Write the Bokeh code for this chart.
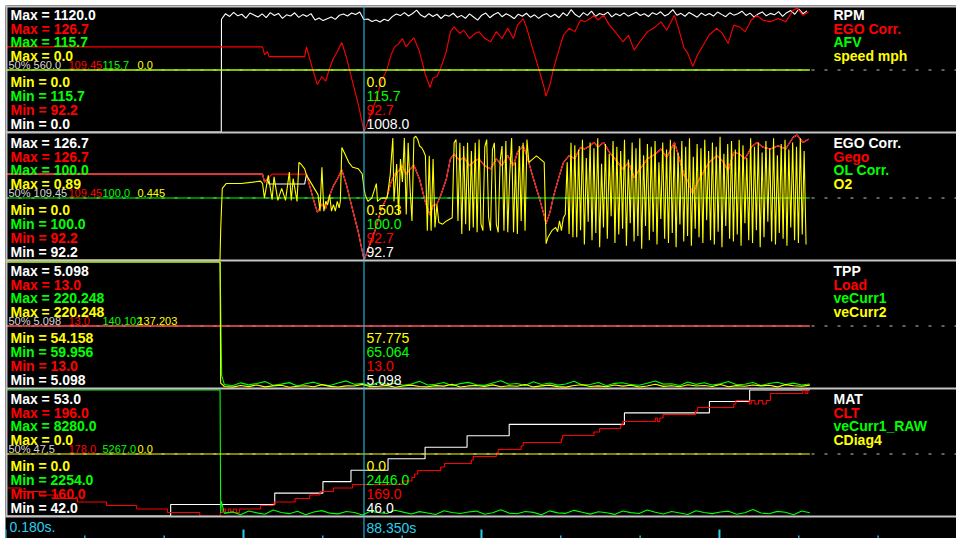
import numpy as np
from bokeh.plotting import figure
from bokeh.models import Range1d, ColumnDataSource
from bokeh.embed import file_html
from bokeh.resources import INLINE
from bokeh.core.properties import value

# ---------------------------------------------------------------- data
T_START = 0.18
T_CURSOR = 88.35
T_END = 198.0
TICK_STEP = 19.51

panel_names = [["RPM", "EGO Corr.", "AFV", "speed mph"],
               ["EGO Corr.", "Gego", "OL Corr.", "O2"],
               ["TPP", "Load", "veCurr1", "veCurr2"],
               ["MAT", "CLT", "veCurr1_RAW", "CDiag4"]]
panel_max = [["1120.0", "126.7", "115.7", "0.0"],
             ["126.7", "126.7", "100.0", "0.89"],
             ["5.098", "13.0", "220.248", "220.248"],
             ["53.0", "196.0", "8280.0", "0.0"]]
panel_min = [["0.0", "92.2", "115.7", "0.0"],
             ["92.2", "92.2", "100.0", "0.0"],
             ["5.098", "13.0", "59.956", "54.158"],
             ["42.0", "160.0", "2254.0", "0.0"]]
panel_mid = [["560.0", "109.45", "115.7", "0.0"],
             ["109.45", "109.45", "100.0", "0.445"],
             ["5.098", "13.0", "140.102", "137.203"],
             ["47.5", "178.0", "5267.0", "0.0"]]
panel_cursor = [["1008.0", "92.7", "115.7", "0.0"],
                ["92.7", "92.7", "100.0", "0.503"],
                ["5.098", "13.0", "65.064", "57.775"],
                ["46.0", "169.0", "2446.0", "0.0"]]

# RPM: 0 until engine start, then sampled every 1.0 s from 53.3 s
rpm_start, rpm_dt = 53.3, 1.0
rpm_vals = [1010, 1060, 1035, 1072, 1041, 1055, 1020, 1066, 1048, 1030,
            1058, 1025, 1070, 1044, 1062, 1018, 1050, 1039, 1068, 1027,
            1052, 1036, 1061, 1004, 1022, 998, 1015, 1031, 1009, 1046,
            1057, 1040, 1066, 1052, 1075, 1008, 1012, 990, 1003, 985,
            1010, 996, 1034, 1058, 1043, 1070, 1039, 1062, 1092, 1048,
            1028, 1060, 1035, 1055, 1017, 1049, 1038, 1064, 1026, 1045,
            1019, 1058, 1030, 1002, 1047, 1066, 1024, 1053, 1071, 1033,
            1060, 1042, 1015, 1056, 1037, 1064, 1028, 1050, 1018, 1046,
            1061, 1032, 1055, 1024, 1068, 1041, 1096, 1052, 1029, 1070,
            1045, 1083, 1036, 1062, 1048, 1074, 1031, 1059, 1042, 1067,
            1038, 1056, 1073, 1044, 1060, 1035, 1069, 1052, 1077, 1040,
            1058, 1097, 1046, 1063, 1037, 1071, 1050, 1029, 1066, 1043,
            1062, 1039, 1075, 1054, 1033, 1068, 1047, 1060, 1082, 1044,
            1065, 1030, 1058, 1076, 1041, 1063, 1050, 1079, 1036, 1069,
            1088, 1055, 1102, 1060, 1085]

ego_t = [0.18, 63.4, 63.9, 64.6, 65.0, 73.76, 74.2, 75.65, 76.87, 78.0,
         78.9, 79.9, 80.8, 81.8, 82.9, 84.1, 85.5, 86.96, 88.37, 91.2,
         92.6, 94.0, 95.0, 95.9, 96.9, 97.8, 98.7, 99.7, 100.6, 102.0,
         103.45, 104.6, 105.3, 106.3, 107.2, 108.6, 109.6, 110.5, 111.9, 112.9,
         114.3, 115.7, 116.6, 118.1, 119.5, 120.9, 122.3, 123.7, 125.1, 126.1,
         127.5, 128.4, 129.8, 131.3, 132.7, 133.1, 134.1, 135.0, 136.4, 137.4,
         138.8, 140.2, 141.6, 142.6, 144.0, 144.9, 145.9, 147.3, 148.7, 150.1,
         152.0, 153.4, 154.8, 156.2, 158.1, 160.0, 161.4, 162.8, 164.7, 165.7,
         167.1, 168.0, 169.2, 170.4, 171.8, 173.2, 175.1, 176.5, 177.9, 179.3,
         180.7, 182.1, 183.6, 185.0, 186.4, 188.3, 190.2, 192.05, 193.9, 194.9,
         196.3, 197.7]
ego_v = [115.7, 115.7, 113.5, 114.4, 113.0, 113.0, 115.7, 109.8, 105.3, 107.5,
         106.2, 109.8, 112.5, 114.4, 116.9, 112.5, 106.2, 99.8, 92.2, 100.7,
         106.2, 109.4, 113.5, 115.7, 116.6, 118.0, 115.7, 117.1, 118.2, 114.4,
         108.0, 104.5, 107.1, 107.5, 109.8, 114.4, 119.9, 121.2, 119.4, 120.3,
         118.0, 119.4, 119.9, 118.0, 117.1, 119.9, 118.0, 120.8, 118.0, 121.7,
         123.5, 120.8, 115.3, 109.8, 104.3, 102.1, 105.3, 109.8, 115.3, 118.9,
         120.8, 119.9, 123.1, 122.6, 123.5, 124.4, 123.1, 124.4, 121.7, 119.9,
         117.1, 118.9, 114.8, 117.1, 119.9, 121.2, 122.6, 120.3, 124.4, 120.8,
         115.3, 113.9, 110.3, 113.5, 116.2, 118.9, 120.8, 119.4, 116.6, 121.7,
         121.2, 119.9, 123.1, 124.4, 123.1, 122.6, 123.5, 122.6, 125.8, 126.4,
         124.4, 125.3]
# Gego follows EGO Corr. except for the first idle segment
gego_head_t = [0.18, 63.4, 63.9, 65.75, 73.76]
gego_head_v = [115.7, 115.7, 113.5, 115.7, 115.7]

o2_t = [0.18, 52.93, 53.12, 53.5, 54.44, 58.21, 61.04, 62.92, 63.4, 63.86,
        64.8, 65.75, 66.22, 67.16, 68.11, 69.05, 69.99, 70.46, 70.93, 71.88,
        72.35, 72.82, 73.76, 74.23, 75.18, 76.12, 77.06, 77.53, 78.0, 78.47,
        78.95, 79.42, 79.89, 80.36, 80.83, 81.3, 81.77, 82.24, 82.53, 82.9,
        83.66, 84.6, 85.54, 86.96, 87.9, 88.37, 88.65, 89.31, 90.26, 91.39,
        91.67, 92.61, 94.03, 94.78, 95.44, 95.72, 96.38, 96.85, 97.32, 97.8,
        98.27, 98.74, 99.21, 99.68, 100.15, 100.62, 101.09, 101.57, 102.04, 102.5,
        102.98, 103.45, 103.92, 104.4, 104.86, 105.34, 105.8, 106.28, 106.75, 107.69,
        108.63, 110.05, 110.52, 110.99, 111.46, 111.93, 112.4, 112.88, 113.35, 113.82,
        114.29, 114.76, 115.23, 115.7, 116.17, 116.65, 117.12, 117.59, 118.06, 118.53,
        119.0, 119.47, 119.94, 120.42, 120.9, 121.36, 121.83, 122.3, 122.77, 123.24,
        123.71, 124.19, 124.66, 125.13, 125.6, 126.07, 126.54, 127.01, 127.48, 127.96,
        128.43, 128.9, 129.84, 130.78, 131.73, 132.67, 133.14, 133.61, 134.55, 135.5,
        135.97, 136.44, 136.91, 137.38, 137.85, 138.32, 138.79, 139.26, 139.73]
o2_v = [0, 0, 0.23, 0.506, 0.54, 0.54, 0.55, 0.557, 0.54, 0.437,
        0.598, 0.426, 0.587, 0.421, 0.506, 0.421, 0.621, 0.421, 0.575, 0.414,
        0.69, 0.678, 0.644, 0.598, 0.552, 0.506, 0.46, 0.345, 0.655, 0.345,
        0.414, 0.391, 0.46, 0.345, 0.391, 0.345, 0.414, 0.368, 0.414, 0.794,
        0.748, 0.69, 0.655, 0.644, 0.609, 0.503, 0.46, 0.414, 0.437, 0.54,
        0.414, 0.437, 0.437, 0.598, 0.862, 0.414, 0.678, 0.322, 0.713, 0.552,
        0.862, 0.322, 0.828, 0.506, 0.276, 0.862, 0.874, 0.851, 0.805, 0.794,
        0.77, 0.736, 0.207, 0.736, 0.207, 0.713, 0.23, 0.391, 0.265, 0.253,
        0.276, 0.299, 0.828, 0.851, 0.276, 0.828, 0.184, 0.805, 0.253, 0.828,
        0.207, 0.77, 0.23, 0.828, 0.196, 0.851, 0.253, 0.207, 0.80, 0.851,
        0.30, 0.207, 0.78, 0.828, 0.25, 0.196, 0.70, 0.805, 0.207, 0.84,
        0.196, 0.60, 0.862, 0.196, 0.69, 0.184, 0.805, 0.276, 0.828, 0.207,
        0.851, 0.69, 0.713, 0.736, 0.713, 0.69, 0.115, 0.161, 0.207, 0.23,
        0.20, 0.276, 0.207, 0.299, 0.322, 0.69, 0.184, 0.828, 0.161]
# closed-loop switching after 140.2 s, sampled every 0.47 s (rich / lean)
o2_sw_start, o2_sw_dt = 140.2, 0.47
o2_rich = [0.81, 0.78, 0.85, 0.72, 0.83, 0.79, 0.86, 0.68, 0.82, 0.75,
           0.84, 0.80, 0.77, 0.85, 0.71, 0.83, 0.79, 0.86, 0.74, 0.82,
           0.80, 0.84, 0.69, 0.83, 0.78, 0.85, 0.81, 0.76, 0.84, 0.80,
           0.86, 0.73, 0.82, 0.79, 0.85, 0.77, 0.83, 0.80, 0.87, 0.75,
           0.82, 0.84, 0.78, 0.85, 0.81, 0.72, 0.86, 0.80, 0.83, 0.76,
           0.84, 0.79, 0.86, 0.74, 0.82, 0.85, 0.78, 0.83, 0.80, 0.86, 0.77]
o2_lean = [0.16, 0.21, 0.11, 0.27, 0.14, 0.19, 0.09, 0.23, 0.15, 0.31,
           0.12, 0.18, 0.22, 0.10, 0.26, 0.13, 0.17, 0.08, 0.24, 0.14,
           0.20, 0.11, 0.29, 0.15, 0.12, 0.19, 0.09, 0.25, 0.13, 0.17,
           0.10, 0.22, 0.16, 0.12, 0.28, 0.14, 0.11, 0.20, 0.09, 0.24,
           0.15, 0.13, 0.18, 0.10, 0.26, 0.14, 0.12, 0.21, 0.09, 0.16,
           0.27, 0.13, 0.11, 0.19, 0.15, 0.10, 0.23, 0.14, 0.12, 0.18, 0.11]

# VE tables / raw: start-up values, then samples every 2.0 s from 54 s
ve_head_t = [0.18, 52.95]
ve2_head_v = [220.248, 220.248, 60.5]
ve2_head_t_extra = [53.1]
ve1_head_v = [220.248, 220.248, 147.0, 76.0]
ve1_head_t_extra = [53.15, 53.35]
raw_head_v = [8280.0, 8280.0, 2400.0, 2960.0]
raw_head_t_extra = [53.1, 53.25]
ve_start, ve_dt = 54.0, 2.0
vecurr2_vals = [56.1, 55.3, 57.4, 56.0, 58.2, 55.6, 56.9, 57.8, 55.1, 56.5,
                57.2, 55.8, 58.6, 56.3, 55.5, 57.0, 56.7, 58.9, 55.9, 56.4,
                57.6, 55.2, 56.8, 58.0, 56.1, 55.7, 57.3, 56.6, 59.1, 55.4,
                56.9, 57.5, 56.2, 58.3, 55.8, 57.1, 56.4, 58.7, 55.6, 56.9,
                57.9, 56.0, 55.3, 57.4, 58.5, 56.2, 57.0, 55.9, 58.1, 56.6,
                57.7, 55.5, 56.8, 59.0, 56.3, 57.2, 55.8, 58.4, 56.7, 57.5,
                56.1, 58.8, 55.7, 57.3, 56.5, 58.2, 56.9, 57.8, 55.6, 58.6,
                57.1, 56.4, 58.0]
vecurr1_vals = [64.2, 62.8, 66.5, 63.9, 65.7, 68.1, 63.4, 64.9, 66.8, 62.6,
                65.3, 67.4, 64.0, 63.1, 66.2, 69.0, 64.6, 65.8, 62.9, 67.7,
                64.3, 66.0, 63.5, 65.1, 68.4, 63.8, 64.7, 66.9, 62.7, 65.5,
                67.1, 64.1, 63.3, 66.4, 69.3, 64.8, 65.6, 63.0, 67.9, 64.5,
                66.3, 63.6, 65.0, 68.6, 63.9, 64.4, 67.0, 62.8, 65.9, 66.7,
                64.2, 63.4, 66.1, 68.8, 64.9, 65.4, 63.2, 67.5, 64.6, 66.6,
                63.7, 65.2, 68.2, 64.0, 64.8, 66.9, 63.1, 65.7, 67.3, 64.3,
                66.2, 63.8, 65.0]
raw_vals = [2380, 2452, 2318, 2496, 2405, 2341, 2538, 2420, 2366, 2477,
            2310, 2445, 2512, 2390, 2356, 2468, 2425, 2301, 2489, 2412,
            2375, 2530, 2438, 2349, 2462, 2397, 2323, 2505, 2418, 2370,
            2446, 2488, 2335, 2410, 2552, 2392, 2360, 2471, 2428, 2315,
            2499, 2403, 2381, 2524, 2436, 2344, 2458, 2409, 2330, 2492,
            2415, 2372, 2540, 2433, 2352, 2466, 2400, 2326, 2509, 2421,
            2368, 2447, 2485, 2338, 2413, 2560, 2395, 2362, 2474, 2430,
            2318, 2497, 2406]

# temperatures (step changes)
mat_t = [0.18, 40.8, 66.4, 78.25, 85.15, 94.26, 103.37, 113.7, 124.06, 152.4, 173.3, 183.2, 198.0]
mat_v = [42, 43, 44, 45, 46, 47, 48, 49, 50, 51, 52, 53, 53]
clt_t = [0.18, 4.0, 8.5, 13.0, 17.9, 25.05, 32.44, 40.0, 47.96, 53.0,
         53.6, 54.3, 55.0, 55.6, 56.2, 57.0, 57.74, 62.92, 66.22, 71.4,
         75.0, 77.53, 80.83, 85.54, 97.8, 100.15, 100.8, 101.57, 107.22, 108.16,
         114.76, 115.23, 120.9, 121.36, 127.0, 127.5, 136.9, 137.2, 144.9, 146.3,
         151.5, 152.0, 160.0, 160.5, 161.1, 161.9, 169.9, 170.4, 179.3, 179.8,
         183.1, 183.6, 184.5, 185.4, 186.4, 187.3, 188.3, 196.3, 197.0, 197.5, 198.0]
clt_v = [168, 167, 166, 165, 164, 163, 162, 161, 160, 161,
         162, 161, 162, 161, 162, 161, 162, 163, 164, 165,
         166, 167, 168, 169, 170, 171, 172, 173, 174, 175,
         176, 177, 178, 179, 180, 181, 182, 183, 184, 185,
         186, 187, 188, 187, 188, 189, 190, 191, 192, 193,
         192, 193, 192, 193, 192, 193, 195, 196, 195, 196, 196]

# constant channels
const_t = [T_START, T_END]

# ---------------------------------------------------------------- layout
COLORS = ["#ffffff", "#ff0000", "#00ff00", "#ffff00"]
GRAY = "#c4c4c4"
CYAN = "#28d0f0"
PANEL_EDGES = [(5, 132), (132, 260), (260, 388), (388, 516)]
PX_PER_S = 4.066
FONT = "Liberation Sans"
W, H = 956, 538

p = figure(width=W, height=H, output_backend="svg", toolbar_location=None,
           x_range=Range1d(T_START, T_START + (956 - 5) / PX_PER_S),
           y_range=Range1d(538, 5),
           x_axis_location=None, y_axis_location=None,
           min_border_left=5, min_border_top=5, min_border_right=0, min_border_bottom=0,
           background_fill_color="black", border_fill_color="white",
           outline_line_color=None)
p.xgrid.visible = False
p.ygrid.visible = False


def panel_mid_px(T, B):
    return (T + B) // 2 + 1.5


def series_range(panel, slot):
    vmin = float(panel_min[panel][slot])
    vmax = float(panel_max[panel][slot])
    T, B = PANEL_EDGES[panel]
    if vmax == vmin:
        mid = panel_mid_px(T, B)
        return Range1d(vmin + (mid - 538), vmin + (mid - 5))
    top, bot = T + 1.5, B - 0.5
    k = (vmax - vmin) / (bot - top)
    return Range1d(vmin + (bot - 538) * k, vmin + (bot - 5) * k)


extra_y = {}
for pi in range(4):
    for si in range(4):
        extra_y[f"s{pi}{si}"] = series_range(pi, si)
p.extra_y_ranges = extra_y
p.extra_x_ranges = {"px": Range1d(5, 956)}

# dashed 50% lines
for pi, (T, B) in enumerate(PANEL_EDGES):
    mid = panel_mid_px(T, B)
    p.line([5, 956], [mid, mid], x_range_name="px", line_color=GRAY,
           line_width=1, line_dash="3 10")

# assemble channel data
rpm_t = [T_START, 53.25] + [rpm_start + i * rpm_dt for i in range(len(rpm_vals))]
rpm_v = [0.0, 0.0] + rpm_vals
gego_t = gego_head_t + ego_t[6:]
gego_v = gego_head_v + ego_v[6:]
sw_vals = [v for pair in zip(o2_rich, o2_lean) for v in pair]
o2_all_t = o2_t + [o2_sw_start + i * o2_sw_dt for i in range(len(sw_vals))]
o2_all_v = o2_v + sw_vals
ve2_t = ve_head_t + ve2_head_t_extra + [ve_start + i * ve_dt for i in range(len(vecurr2_vals))]
ve2_v = ve2_head_v + vecurr2_vals
ve1_t = ve_head_t + ve1_head_t_extra + [ve_start + i * ve_dt for i in range(len(vecurr1_vals))]
ve1_v = ve1_head_v + vecurr1_vals
raw_t = ve_head_t + raw_head_t_extra + [ve_start + i * ve_dt for i in range(len(raw_vals))]
raw_v = raw_head_v + raw_vals

channels = {
    (0, 0): (rpm_t, rpm_v, "line"),
    (0, 1): (ego_t, ego_v, "line"),
    (0, 2): (const_t, [115.7, 115.7], "line"),
    (0, 3): (const_t, [0.0, 0.0], "line"),
    (1, 0): (ego_t, ego_v, "line"),
    (1, 1): (gego_t, gego_v, "line"),
    (1, 2): (const_t, [100.0, 100.0], "line"),
    (1, 3): (o2_all_t, o2_all_v, "line"),
    (2, 0): (const_t, [5.098, 5.098], "line"),
    (2, 1): (const_t, [13.0, 13.0], "line"),
    (2, 2): (ve1_t, ve1_v, "line"),
    (2, 3): (ve2_t, ve2_v, "line"),
    (3, 0): (mat_t, mat_v, "step"),
    (3, 1): (clt_t, clt_v, "step"),
    (3, 2): (raw_t, raw_v, "line"),
    (3, 3): (const_t, [0.0, 0.0], "line"),
}
for pi in range(4):
    for si in range(4):
        xs, ys, kind = channels[(pi, si)]
        if kind == "step":
            p.step(xs, ys, mode="after", line_color=COLORS[si], line_width=1.1,
                   y_range_name=f"s{pi}{si}")
        else:
            p.line(xs, ys, line_color=COLORS[si], line_width=1.1,
                   y_range_name=f"s{pi}{si}")

# separators & border
for T, B in PANEL_EDGES:
    p.line([5, 956], [B, B], x_range_name="px", line_color=GRAY, line_width=2)
p.line([5, 956], [6, 6], x_range_name="px", line_color=GRAY, line_width=2)
p.line([6, 6], [5, 516], x_range_name="px", line_color=GRAY, line_width=2)

# cursor
p.line([T_CURSOR, T_CURSOR], [5, 538], line_color=CYAN, line_width=1)

# time ticks
n_ticks = int((956 - 5) / PX_PER_S / TICK_STEP) + 1
tick_t = [T_START + k * TICK_STEP for k in range(n_ticks)]
major = [k % 3 == 0 for k in range(n_ticks)]
p.segment(x0=tick_t, x1=tick_t, y0=[529 if m else 535 for m in major],
          y1=[538] * n_ticks, line_color=CYAN,
          line_width=[2 if m else 1.3 for m in major])

# ---------------------------------------------------------------- texts
ROW_MAX = [10, 24, 37.5, 51]
ROW_MID = 60
ROW_MIN = [77, 91, 105, 119]
MID_X = [8, 68, 102, 137]

bold = dict(x=[], y=[], text=[], color=[])
reg = dict(x=[], y=[], text=[], color=[])
small = dict(x=[], y=[], text=[], color=[])
for pi, (T, B) in enumerate(PANEL_EDGES):
    off = T - (1 if pi == 0 else 0)
    for si in range(4):
        bold["x"].append(10); bold["y"].append(off + ROW_MAX[si])
        bold["text"].append(f"Max = {panel_max[pi][si]}"); bold["color"].append(COLORS[si])
        # legend names on the right
        bold["x"].append(833); bold["y"].append(off + ROW_MAX[si])
        bold["text"].append(panel_names[pi][si]); bold["color"].append(COLORS[si])
        # min rows (reverse order: yellow, green, red, white)
        sj = 3 - si
        bold["x"].append(10); bold["y"].append(off + ROW_MIN[si])
        bold["text"].append(f"Min = {panel_min[pi][sj]}"); bold["color"].append(COLORS[sj])
        reg["x"].append(366); reg["y"].append(off + ROW_MIN[si])
        reg["text"].append(panel_cursor[pi][sj]); reg["color"].append(COLORS[sj])
        small["x"].append(MID_X[si]); small["y"].append(off + ROW_MID)
        small["text"].append(("50% " if si == 0 else "") + panel_mid[pi][si])
        small["color"].append("#d8d8d8" if si == 0 else COLORS[si])

# time labels
reg["x"] += [9, 366]
reg["y"] += [526, 527]
reg["text"] += [f"{T_START:.3f}s.", f"{T_CURSOR:.3f}s"]
reg["color"] += [CYAN, CYAN]

p.text(x="x", y="y", text="text", text_color="color", source=ColumnDataSource(bold),
       x_range_name="px", text_font=value(FONT), text_font_style="bold",
       text_font_size="14px", text_baseline="middle", text_align="left")
p.text(x="x", y="y", text="text", text_color="color", source=ColumnDataSource(reg),
       x_range_name="px", text_font=value(FONT), text_font_size="14px",
       text_baseline="middle", text_align="left")
p.text(x="x", y="y", text="text", text_color="color", source=ColumnDataSource(small),
       x_range_name="px", text_font=value(FONT), text_font_size="11px",
       text_baseline="middle", text_align="left")

open("out.html", "w").write(file_html(p, INLINE))
